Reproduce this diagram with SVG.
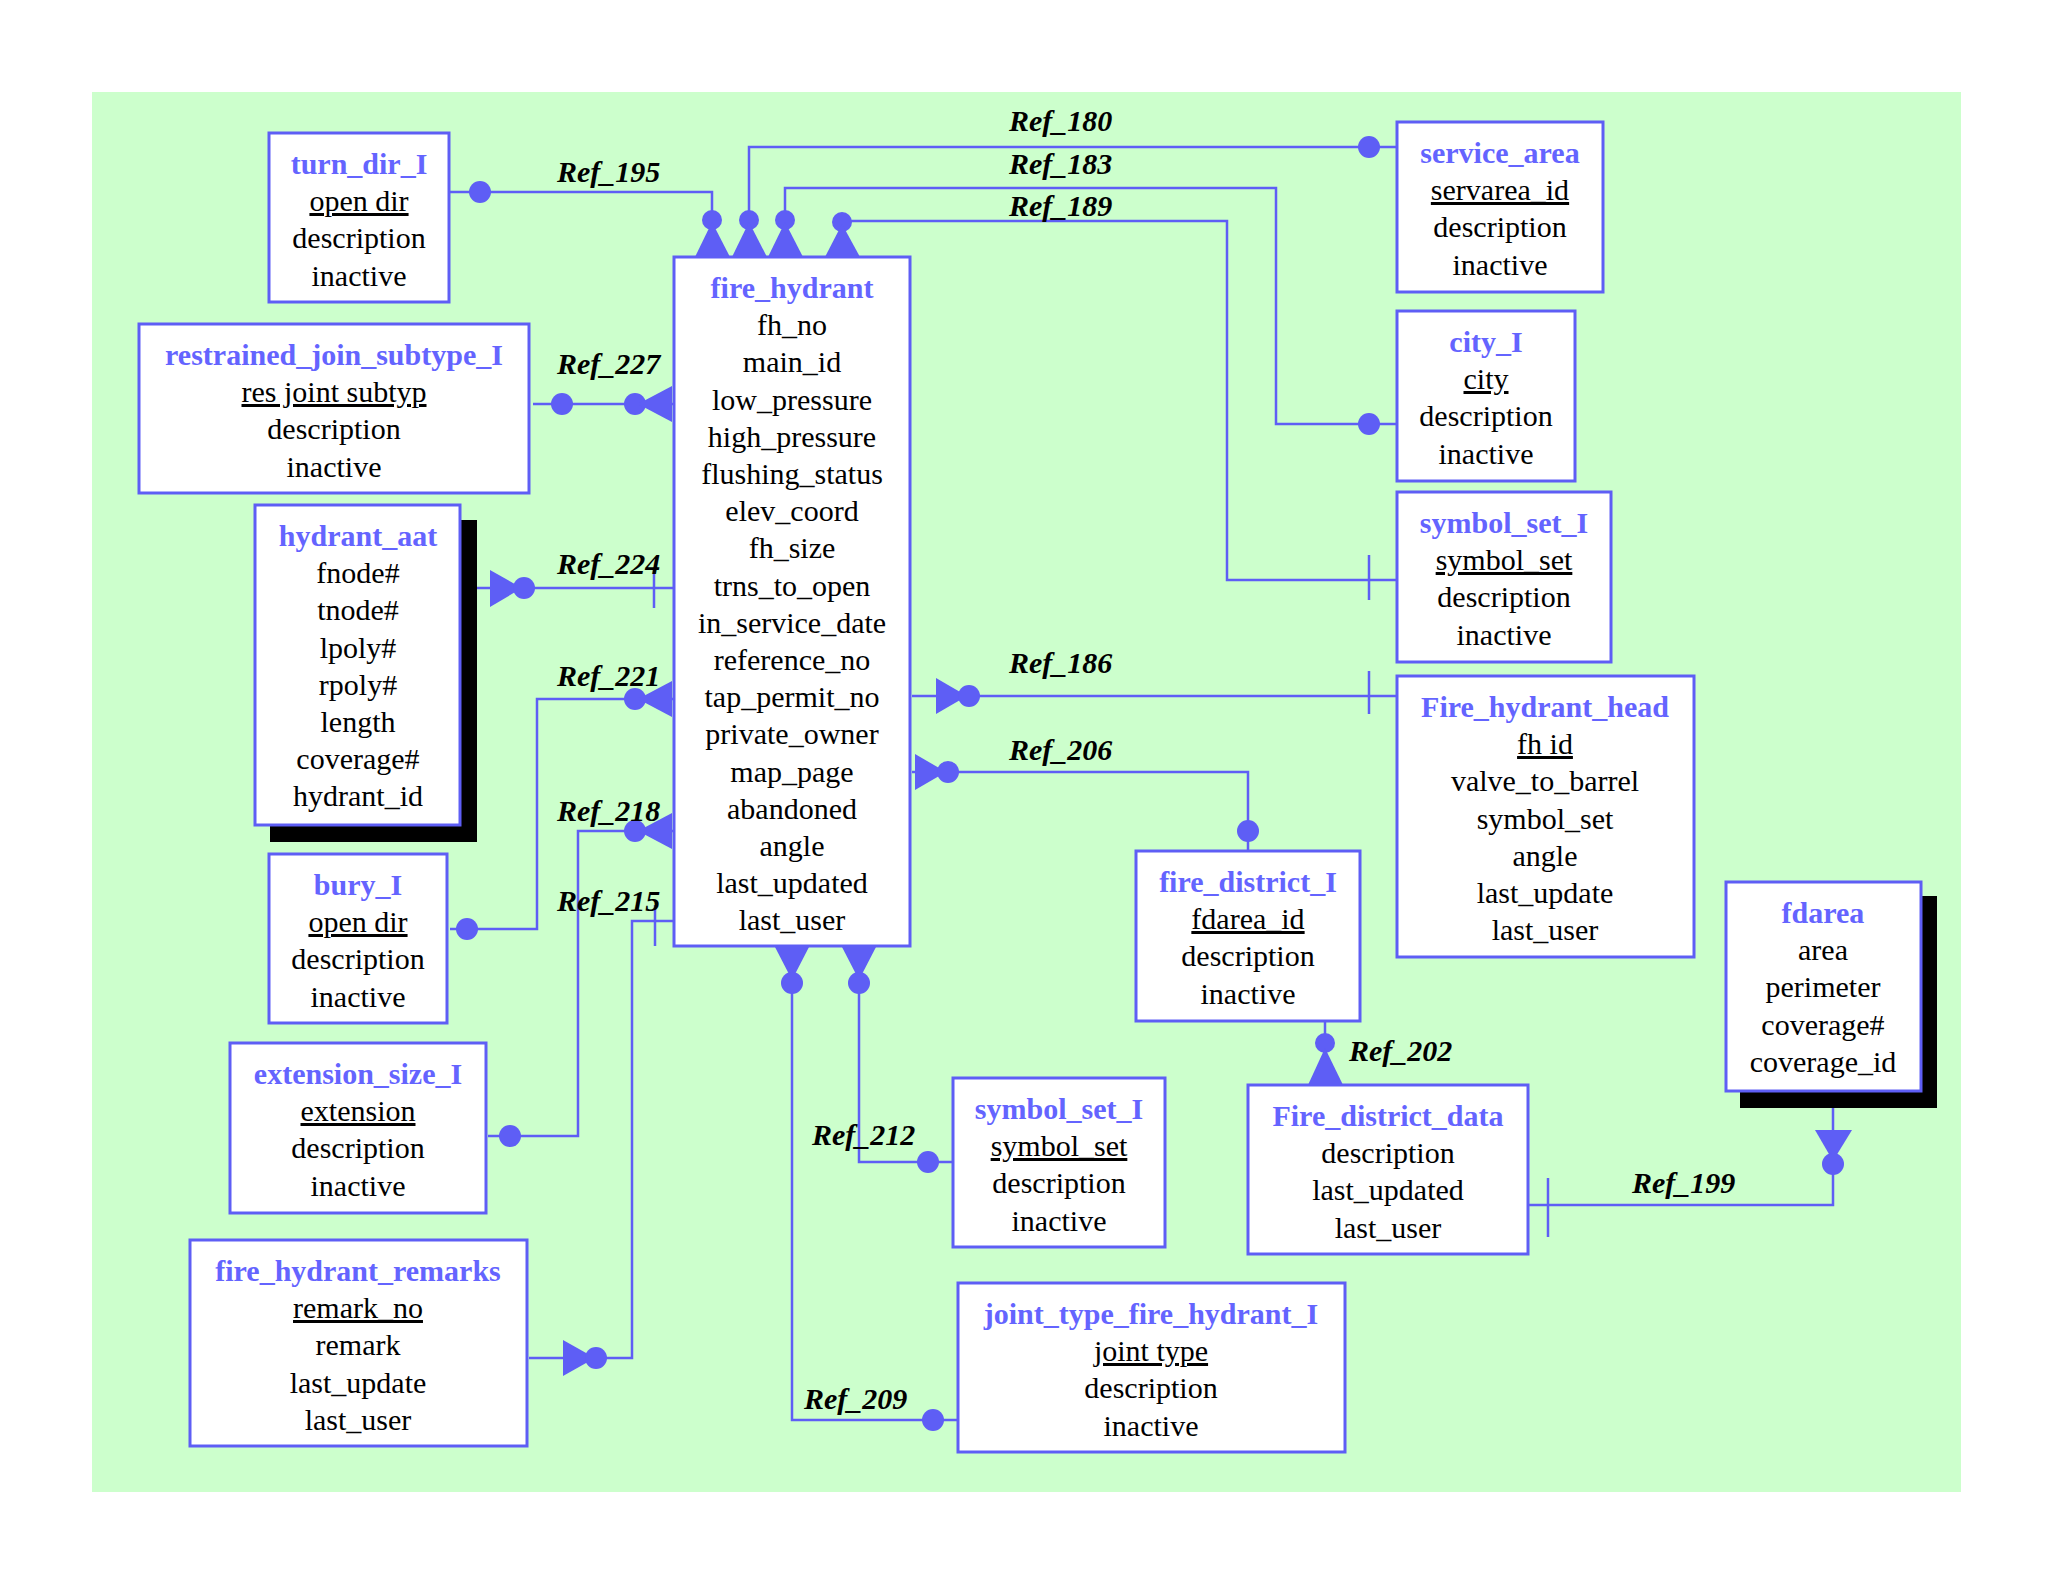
<svg xmlns="http://www.w3.org/2000/svg" width="2048" height="1582" viewBox="0 0 2048 1582">
<style>
.bx{fill:#fff;stroke:#5e5ef5;stroke-width:3}
.sh{fill:#000}
.t{font-family:"Liberation Serif",serif;font-size:30px;text-anchor:middle;fill:#000}
.h{font-weight:bold;fill:#6464ff}
.u{text-decoration:underline}
.c{fill:none;stroke:#5e5ef5;stroke-width:2.5}
.d{fill:#5e5ef5}
.l{font-family:"Liberation Serif",serif;font-size:30px;font-weight:bold;font-style:italic;fill:#000}
</style>
<rect width="2048" height="1582" fill="#fff"/>
<rect x="92" y="92" width="1869" height="1400" fill="#ccffcc"/>
<g id="connectors">
<!-- Ref_195 -->
<polyline class="c" points="450,192 712,192 712,257"/><circle class="d" cx="480" cy="192" r="11"/><circle class="d" cx="712" cy="220" r="10"/><polygon class="d" points="712,222 695,257 730,257"/>
<text class="l" x="557" y="182">Ref_195</text>
<!-- Ref_180 -->
<polyline class="c" points="1397,147 749,147 749,257"/><circle class="d" cx="1369" cy="147" r="11"/><circle class="d" cx="749" cy="220" r="10"/><polygon class="d" points="749,222 732,257 767,257"/>
<text class="l" x="1009" y="131">Ref_180</text>
<!-- Ref_183 -->
<polyline class="c" points="1397,424 1276,424 1276,188 785,188 785,257"/><circle class="d" cx="1369" cy="424" r="11"/><circle class="d" cx="785" cy="220" r="10"/><polygon class="d" points="785,222 768,257 803,257"/>
<text class="l" x="1009" y="174">Ref_183</text>
<!-- Ref_189 -->
<polyline class="c" points="1397,580 1227,580 1227,221 842,221 842,257"/><line class="c" x1="1369" y1="555" x2="1369" y2="600"/><circle class="d" cx="842" cy="222" r="10"/><polygon class="d" points="842,224 825,257 860,257"/>
<text class="l" x="1009" y="216">Ref_189</text>
<!-- Ref_227 -->
<line class="c" x1="533" y1="404" x2="674" y2="404"/><circle class="d" cx="562" cy="404" r="11"/><circle class="d" cx="635" cy="404" r="11"/><polygon class="d" points="638,404 672,386 672,422"/>
<text class="l" x="557" y="374">Ref_227</text>
<!-- Ref_224 -->
<line class="c" x1="468" y1="588" x2="674" y2="588"/><polygon class="d" points="490,570 490,607 522,588"/><circle class="d" cx="524" cy="588" r="11"/><line class="c" x1="654" y1="570" x2="654" y2="608"/>
<text class="l" x="557" y="574">Ref_224</text>
<!-- Ref_221 -->
<polyline class="c" points="450,929 537,929 537,699 674,699"/><circle class="d" cx="467" cy="929" r="11"/><circle class="d" cx="635" cy="699" r="11"/><polygon class="d" points="638,699 672,681 672,717"/>
<text class="l" x="557" y="686">Ref_221</text>
<!-- Ref_218 -->
<polyline class="c" points="488,1136 578,1136 578,831 674,831"/><circle class="d" cx="510" cy="1136" r="11"/><circle class="d" cx="635" cy="831" r="11"/><polygon class="d" points="638,831 672,813 672,849"/>
<text class="l" x="557" y="821">Ref_218</text>
<!-- Ref_215 -->
<polyline class="c" points="529,1358 632,1358 632,921 674,921"/><polygon class="d" points="563,1340 563,1376 595,1358"/><circle class="d" cx="596" cy="1358" r="11"/><line class="c" x1="655" y1="905" x2="655" y2="946"/>
<text class="l" x="557" y="911">Ref_215</text>
<!-- Ref_212 -->
<polyline class="c" points="859,946 859,1162 953,1162"/><polygon class="d" points="842,947 876,947 859,980"/><circle class="d" cx="859" cy="983" r="11"/><circle class="d" cx="928" cy="1162" r="11"/>
<text class="l" x="812" y="1145">Ref_212</text>
<!-- Ref_209 -->
<polyline class="c" points="792,946 792,1420 958,1420"/><polygon class="d" points="775,947 809,947 792,980"/><circle class="d" cx="792" cy="983" r="11"/><circle class="d" cx="933" cy="1420" r="11"/>
<text class="l" x="804" y="1409">Ref_209</text>
<!-- Ref_186 -->
<line class="c" x1="912" y1="696" x2="1397" y2="696"/><polygon class="d" points="936,678 936,714 967,696"/><circle class="d" cx="969" cy="696" r="11"/><line class="c" x1="1369" y1="671" x2="1369" y2="714"/>
<text class="l" x="1009" y="673">Ref_186</text>
<!-- Ref_206 -->
<polyline class="c" points="912,772 1248,772 1248,851"/><polygon class="d" points="915,754 915,790 946,772"/><circle class="d" cx="948" cy="772" r="11"/><circle class="d" cx="1248" cy="831" r="11"/>
<text class="l" x="1009" y="760">Ref_206</text>
<!-- Ref_202 -->
<line class="c" x1="1325" y1="1021" x2="1325" y2="1085"/><circle class="d" cx="1325" cy="1043" r="10"/><polygon class="d" points="1325,1048 1308,1085 1343,1085"/>
<text class="l" x="1349" y="1061">Ref_202</text>
<!-- Ref_199 -->
<polyline class="c" points="1528,1205 1833,1205 1833,1108"/><line class="c" x1="1548" y1="1178" x2="1548" y2="1237"/><polygon class="d" points="1815,1130 1852,1130 1833,1161"/><circle class="d" cx="1833" cy="1164" r="11"/>
<text class="l" x="1632" y="1193">Ref_199</text>
</g>
<g id="turn_dir_I"><rect class="bx" x="269" y="133" width="180" height="169"/>
<text class="t h" x="359" y="174">turn_dir_I</text><text class="t u" x="359" y="211">open dir</text><text class="t" x="359" y="248">description</text><text class="t" x="359" y="286">inactive</text></g>
<g id="restrained_join_subtype_I"><rect class="bx" x="139" y="324" width="390" height="169"/>
<text class="t h" x="334" y="365">restrained_join_subtype_I</text><text class="t u" x="334" y="402">res joint subtyp</text><text class="t" x="334" y="439">description</text><text class="t" x="334" y="477">inactive</text></g>
<g id="hydrant_aat"><rect class="sh" x="270" y="520" width="207" height="322"/><rect class="bx" x="255" y="505" width="205" height="320"/>
<text class="t h" x="358" y="546">hydrant_aat</text><text class="t" x="358" y="583">fnode#</text><text class="t" x="358" y="620">tnode#</text><text class="t" x="358" y="658">lpoly#</text><text class="t" x="358" y="695">rpoly#</text><text class="t" x="358" y="732">length</text><text class="t" x="358" y="769">coverage#</text><text class="t" x="358" y="806">hydrant_id</text></g>
<g id="bury_I"><rect class="bx" x="269" y="854" width="178" height="169"/>
<text class="t h" x="358" y="895">bury_I</text><text class="t u" x="358" y="932">open dir</text><text class="t" x="358" y="969">description</text><text class="t" x="358" y="1007">inactive</text></g>
<g id="extension_size_I"><rect class="bx" x="230" y="1043" width="256" height="170"/>
<text class="t h" x="358" y="1084">extension_size_I</text><text class="t u" x="358" y="1121">extension</text><text class="t" x="358" y="1158">description</text><text class="t" x="358" y="1196">inactive</text></g>
<g id="fire_hydrant_remarks"><rect class="bx" x="190" y="1240" width="337" height="206"/>
<text class="t h" x="358" y="1281">fire_hydrant_remarks</text><text class="t u" x="358" y="1318">remark_no</text><text class="t" x="358" y="1355">remark</text><text class="t" x="358" y="1393">last_update</text><text class="t" x="358" y="1430">last_user</text></g>
<g id="fire_hydrant"><rect class="bx" x="674" y="257" width="236" height="689"/>
<text class="t h" x="792" y="298">fire_hydrant</text>
<text class="t" x="792" y="335">fh_no</text><text class="t" x="792" y="372">main_id</text><text class="t" x="792" y="410">low_pressure</text><text class="t" x="792" y="447">high_pressure</text><text class="t" x="792" y="484">flushing_status</text><text class="t" x="792" y="521">elev_coord</text><text class="t" x="792" y="558">fh_size</text><text class="t" x="792" y="596">trns_to_open</text><text class="t" x="792" y="633">in_service_date</text><text class="t" x="792" y="670">reference_no</text><text class="t" x="792" y="707">tap_permit_no</text><text class="t" x="792" y="744">private_owner</text><text class="t" x="792" y="782">map_page</text><text class="t" x="792" y="819">abandoned</text><text class="t" x="792" y="856">angle</text><text class="t" x="792" y="893">last_updated</text><text class="t" x="792" y="930">last_user</text></g>
<g id="service_area"><rect class="bx" x="1397" y="122" width="206" height="170"/>
<text class="t h" x="1500" y="163">service_area</text><text class="t u" x="1500" y="200">servarea_id</text><text class="t" x="1500" y="237">description</text><text class="t" x="1500" y="275">inactive</text></g>
<g id="city_I"><rect class="bx" x="1397" y="311" width="178" height="170"/>
<text class="t h" x="1486" y="352">city_I</text><text class="t u" x="1486" y="389">city</text><text class="t" x="1486" y="426">description</text><text class="t" x="1486" y="464">inactive</text></g>
<g id="symbol_set_I_right"><rect class="bx" x="1397" y="492" width="214" height="170"/>
<text class="t h" x="1504" y="533">symbol_set_I</text><text class="t u" x="1504" y="570">symbol_set</text><text class="t" x="1504" y="607">description</text><text class="t" x="1504" y="645">inactive</text></g>
<g id="Fire_hydrant_head"><rect class="bx" x="1397" y="676" width="297" height="281"/>
<text class="t h" x="1545" y="717">Fire_hydrant_head</text><text class="t u" x="1545" y="754">fh id</text><text class="t" x="1545" y="791">valve_to_barrel</text><text class="t" x="1545" y="829">symbol_set</text><text class="t" x="1545" y="866">angle</text><text class="t" x="1545" y="903">last_update</text><text class="t" x="1545" y="940">last_user</text></g>
<g id="fire_district_I"><rect class="bx" x="1136" y="851" width="224" height="170"/>
<text class="t h" x="1248" y="892">fire_district_I</text><text class="t u" x="1248" y="929">fdarea_id</text><text class="t" x="1248" y="966">description</text><text class="t" x="1248" y="1004">inactive</text></g>
<g id="symbol_set_I_mid"><rect class="bx" x="953" y="1078" width="212" height="169"/>
<text class="t h" x="1059" y="1119">symbol_set_I</text><text class="t u" x="1059" y="1156">symbol_set</text><text class="t" x="1059" y="1193">description</text><text class="t" x="1059" y="1231">inactive</text></g>
<g id="Fire_district_data"><rect class="bx" x="1248" y="1085" width="280" height="169"/>
<text class="t h" x="1388" y="1126">Fire_district_data</text><text class="t" x="1388" y="1163">description</text><text class="t" x="1388" y="1200">last_updated</text><text class="t" x="1388" y="1238">last_user</text></g>
<g id="joint_type_fire_hydrant_I"><rect class="bx" x="958" y="1283" width="387" height="169"/>
<text class="t h" x="1151" y="1324">joint_type_fire_hydrant_I</text><text class="t u" x="1151" y="1361">joint type</text><text class="t" x="1151" y="1398">description</text><text class="t" x="1151" y="1436">inactive</text></g>
<g id="fdarea"><rect class="sh" x="1740" y="896" width="197" height="212"/><rect class="bx" x="1726" y="882" width="195" height="209"/>
<text class="t h" x="1823" y="923">fdarea</text><text class="t" x="1823" y="960">area</text><text class="t" x="1823" y="997">perimeter</text><text class="t" x="1823" y="1035">coverage#</text><text class="t" x="1823" y="1072">coverage_id</text></g>
</svg>
